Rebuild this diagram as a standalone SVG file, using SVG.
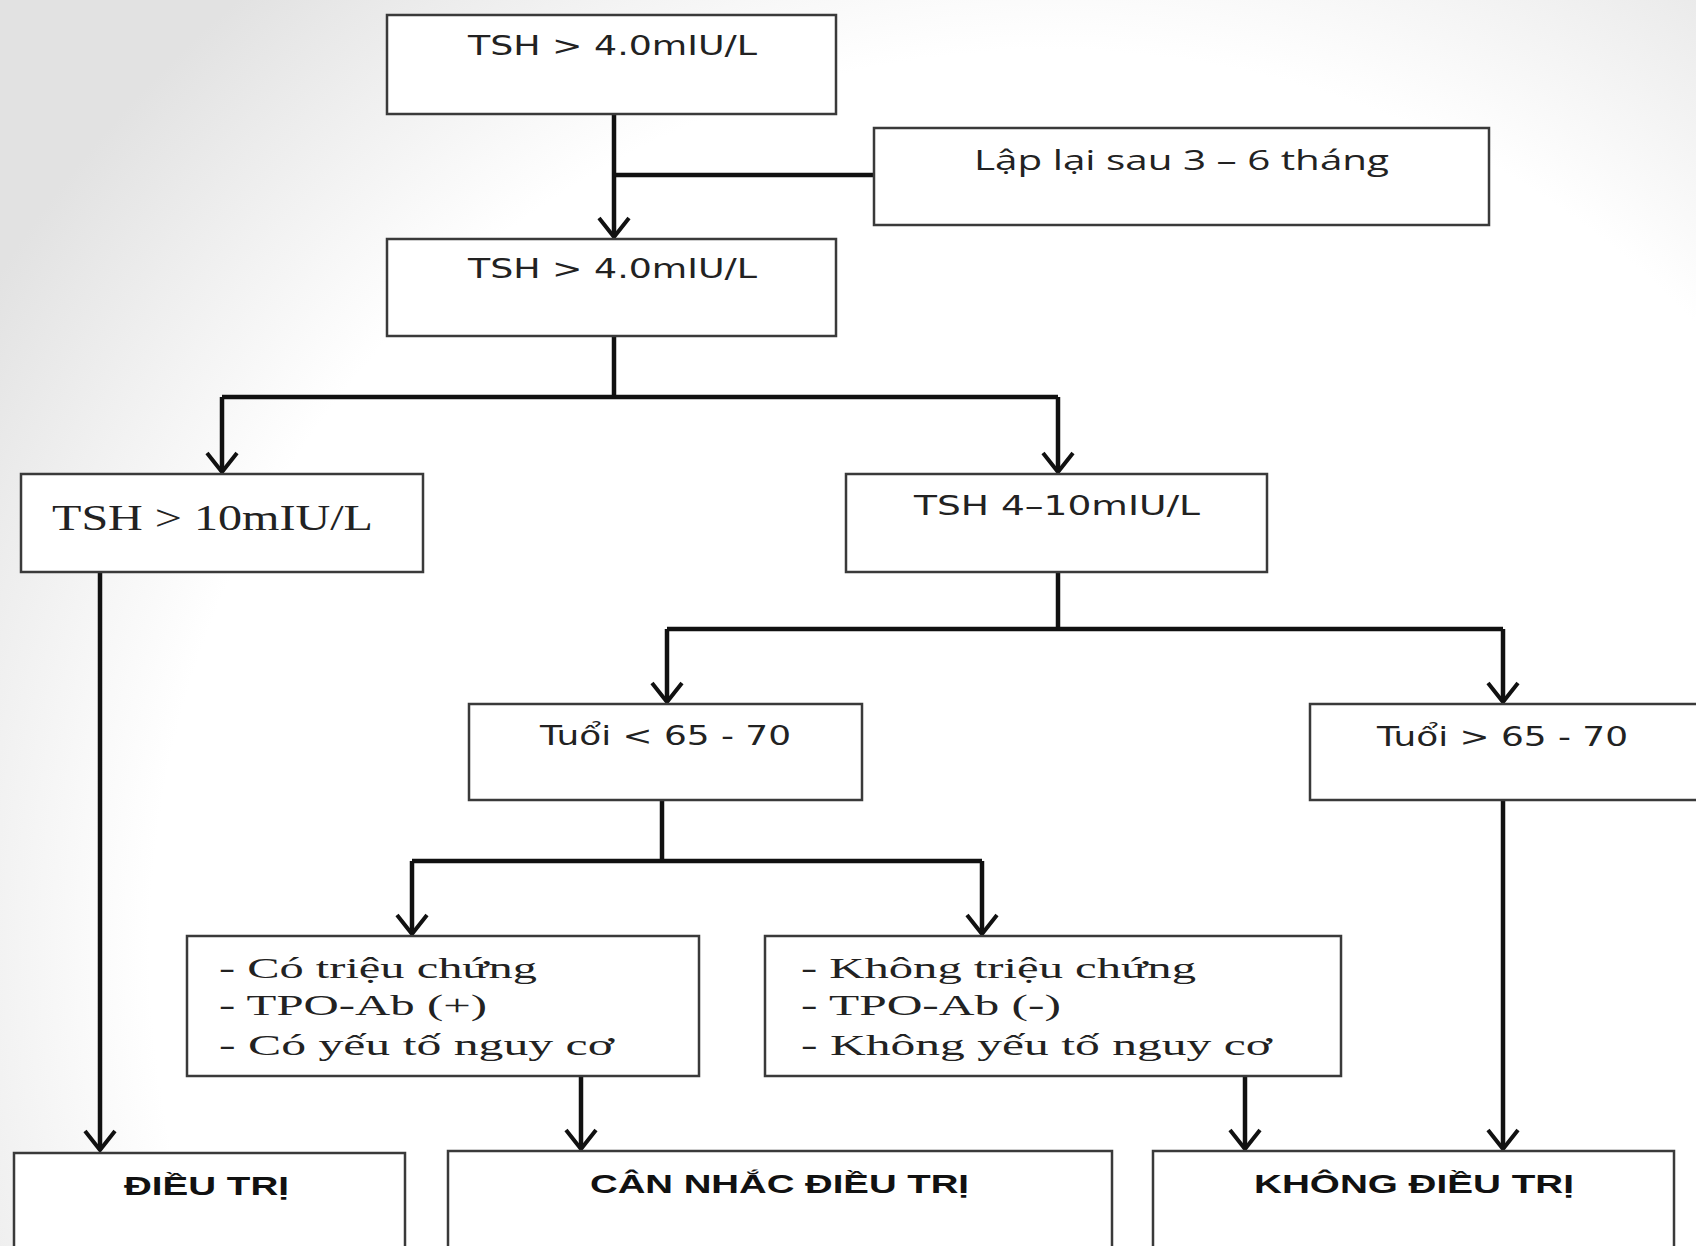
<svg xmlns="http://www.w3.org/2000/svg" width="1696" height="1246" viewBox="0 0 1696 1246">
<defs>
<radialGradient id="bg" cx="1050" cy="950" r="1250" gradientUnits="userSpaceOnUse">
<stop offset="0" stop-color="#ffffff"/>
<stop offset="0.72" stop-color="#ffffff"/>
<stop offset="1" stop-color="#e2e2e2"/>
</radialGradient>
<marker id="arr" viewBox="0 0 24 34" refX="21" refY="17" markerWidth="24" markerHeight="34" markerUnits="userSpaceOnUse" orient="auto">
<path d="M2,2 L21,17 L2,32" fill="none" stroke="#111" stroke-width="4"/>
</marker>
<style>
.box{fill:#fff;stroke:#3a3a3a;stroke-width:2.5}
.ln{fill:none;stroke:#111;stroke-width:4.5}
.sans{font-family:"DejaVu Sans","Liberation Sans",sans-serif;font-size:27px;fill:#222}
.cal{font-family:"Open Sans","Liberation Sans",sans-serif;font-size:28px;fill:#222}
.ser{font-family:"Liberation Serif","DejaVu Serif",serif;fill:#222}
.bold{font-family:"Liberation Sans","Open Sans",sans-serif;font-size:25px;font-weight:bold;fill:#111}
</style>
</defs>
<rect x="0" y="0" width="1696" height="1246" fill="url(#bg)"/>
<g id="connectors">
<path class="ln" d="M614,114 V237" marker-end="url(#arr)"/>
<path class="ln" d="M614,175 H874"/>
<path class="ln" d="M614,336 V397"/>
<path class="ln" d="M222,397 H1058"/>
<path class="ln" d="M222,397 V472" marker-end="url(#arr)"/>
<path class="ln" d="M1058,397 V472" marker-end="url(#arr)"/>
<path class="ln" d="M1058,572 V629"/>
<path class="ln" d="M667,629 H1503"/>
<path class="ln" d="M667,629 V702" marker-end="url(#arr)"/>
<path class="ln" d="M1503,629 V702" marker-end="url(#arr)"/>
<path class="ln" d="M662,800 V861"/>
<path class="ln" d="M412,861 H982"/>
<path class="ln" d="M412,861 V934" marker-end="url(#arr)"/>
<path class="ln" d="M982,861 V934" marker-end="url(#arr)"/>
<path class="ln" d="M100,572 V1150" marker-end="url(#arr)"/>
<path class="ln" d="M581,1076 V1149" marker-end="url(#arr)"/>
<path class="ln" d="M1245,1076 V1149" marker-end="url(#arr)"/>
<path class="ln" d="M1503,800 V1149" marker-end="url(#arr)"/>
</g>
<g id="n1"><rect class="box" x="387" y="15" width="449" height="99"/><text class="sans" x="468" y="55" textLength="289" lengthAdjust="spacingAndGlyphs">TSH &gt; 4.0mIU/L</text></g>
<g id="n_repeat"><rect class="box" x="874" y="128" width="615" height="97"/><text class="cal" x="974" y="170" textLength="415" lengthAdjust="spacingAndGlyphs">Lập lại sau 3 – 6 tháng</text></g>
<g id="n2"><rect class="box" x="387" y="239" width="449" height="97"/><text class="sans" x="468" y="278" textLength="289" lengthAdjust="spacingAndGlyphs">TSH &gt; 4.0mIU/L</text></g>
<g id="n_tsh10"><rect class="box" x="21" y="474" width="402" height="98"/><text class="ser" font-size="36" x="52" y="530" textLength="321" lengthAdjust="spacingAndGlyphs">TSH &gt; 10mIU/L</text></g>
<g id="n_tsh4_10"><rect class="box" x="846" y="474" width="421" height="98"/><text class="sans" x="914" y="515" textLength="286" lengthAdjust="spacingAndGlyphs">TSH 4–10mIU/L</text></g>
<g id="n_age_lt"><rect class="box" x="469" y="704" width="393" height="96"/><text class="sans" x="540" y="745" textLength="251" lengthAdjust="spacingAndGlyphs">Tuổi &lt; 65 - 70</text></g>
<g id="n_age_gt"><rect class="box" x="1310" y="704" width="400" height="96"/><text class="sans" x="1377" y="746" textLength="251" lengthAdjust="spacingAndGlyphs">Tuổi &gt; 65 - 70</text></g>
<g id="n_co"><rect class="box" x="187" y="936" width="512" height="140"/>
<text class="ser" font-size="30" x="219" y="978" textLength="318" lengthAdjust="spacingAndGlyphs">- Có triệu  chứng</text>
<text class="ser" font-size="30" x="219" y="1015" textLength="268" lengthAdjust="spacingAndGlyphs">- TPO-Ab (+)</text>
<text class="ser" font-size="30" x="219" y="1055" textLength="395" lengthAdjust="spacingAndGlyphs">- Có yếu  tố nguy   cơ</text></g>
<g id="n_khong"><rect class="box" x="765" y="936" width="576" height="140"/>
<text class="ser" font-size="30" x="801" y="978" textLength="395" lengthAdjust="spacingAndGlyphs">- Không  triệu  chứng</text>
<text class="ser" font-size="30" x="801" y="1015" textLength="260" lengthAdjust="spacingAndGlyphs">- TPO-Ab (-)</text>
<text class="ser" font-size="30" x="801" y="1055" textLength="471" lengthAdjust="spacingAndGlyphs">- Không  yếu  tố nguy   cơ</text></g>
<g id="n_dieutri"><rect class="box" x="14" y="1153" width="391" height="110"/><text class="bold" x="124" y="1195" textLength="165" lengthAdjust="spacingAndGlyphs">ĐIỀU TRỊ</text></g>
<g id="n_cannhac"><rect class="box" x="448" y="1151" width="664" height="112"/><text class="bold" x="590" y="1193" textLength="379" lengthAdjust="spacingAndGlyphs">CÂN NHẮC ĐIỀU TRỊ</text></g>
<g id="n_khongdieutri"><rect class="box" x="1153" y="1151" width="521" height="112"/><text class="bold" x="1254" y="1193" textLength="320" lengthAdjust="spacingAndGlyphs">KHÔNG ĐIỀU TRỊ</text></g>
</svg>
